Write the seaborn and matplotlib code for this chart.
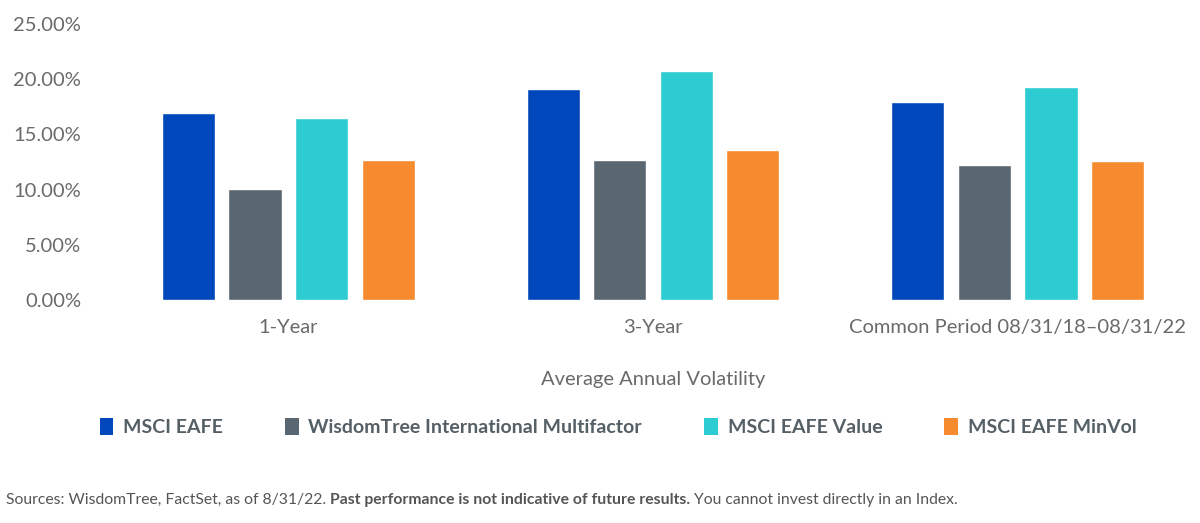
import pandas as pd
import matplotlib
matplotlib.use("Agg")
import matplotlib.pyplot as plt
import seaborn as sns
from matplotlib.ticker import PercentFormatter
from matplotlib.patches import Patch

# data (average annual volatility, %)
periods = ["1-Year", "3-Year", "Common Period 08/31/18\u201308/31/22"]
series_names = ["MSCI EAFE", "WisdomTree International Multifactor",
                "MSCI EAFE Value", "MSCI EAFE MinVol"]
msci_eafe = [16.95, 19.1, 17.95]
wt_multifactor = [10.05, 12.7, 12.25]
msci_eafe_value = [16.5, 20.7, 19.25]
msci_eafe_minvol = [12.7, 13.55, 12.55]
colors = ["#0047BB", "#5B6770", "#2DCCD3", "#F58B2E"]

ytick_vals = [0, 5, 10, 15, 20, 25]


def main():
    sns.set_style("white")
    plt.rcParams["font.family"] = ["Lato", "DejaVu Sans"]

    rows = []
    for name, vals in zip(series_names, [msci_eafe, wt_multifactor,
                                         msci_eafe_value, msci_eafe_minvol]):
        for p, v in zip(periods, vals):
            rows.append({"Period": p, "Index": name, "Volatility": v})
    df = pd.DataFrame(rows)

    fig = plt.figure(figsize=(12, 5.23), dpi=100)
    ax = fig.add_axes([106 / 1200, 1 - 300 / 523, 1 - 106 / 1200, (300 - 24) / 523])

    sns.barplot(data=df, x="Period", y="Volatility", hue="Index",
                hue_order=series_names, palette=colors, width=0.73, gap=0.2,
                saturation=1, legend=False, ax=ax)

    ax.set_xlim(-0.5, 2.5)
    ax.set_ylim(0, 25)
    ax.set_yticks(ytick_vals)
    ax.yaxis.set_major_formatter(PercentFormatter(decimals=2))
    sns.despine(ax=ax, left=True, bottom=True)
    ax.tick_params(axis="both", length=0, labelcolor="#6a6a6a")
    ax.tick_params(axis="y", pad=18, labelsize=14.5)
    ax.tick_params(axis="x", pad=14, labelsize=14.5)
    ax.set_ylabel("")
    ax.set_xlabel("Average Annual Volatility", fontsize=14.5, color="#6a6a6a",
                  labelpad=25)

    handles = [Patch(facecolor=c, edgecolor="none") for c in colors]
    fig.legend(handles, series_names, loc="center",
               bbox_to_anchor=(0.515, 1 - 427 / 523), ncol=4, frameon=False,
               handlelength=0.7, handleheight=1.0, handletextpad=0.5,
               columnspacing=3.2,
               prop={"weight": "bold", "size": 14})
    for t in fig.legends[0].get_texts():
        t.set_color("#555f66")

    # footer with a bold middle part
    y_foot = 1 - 500 / 523
    fs = 11.3
    t1 = fig.text(0.005, y_foot, "Sources: WisdomTree, FactSet, as of 8/31/22. ",
                  fontsize=fs, color="#555555", va="center")
    t2 = fig.text(0, 0, "Past performance is not indicative of future results.",
                  fontsize=fs, color="#555555", weight="bold", va="center")
    fig.canvas.draw()
    r = fig.canvas.get_renderer()
    inv = fig.transFigure.inverted()
    bb1 = t1.get_window_extent(r)
    t2.set_position((inv.transform((bb1.x1, 0))[0], y_foot))
    fig.canvas.draw()
    bb2 = t2.get_window_extent(r)
    fig.text(inv.transform((bb2.x1, 0))[0], y_foot,
             " You cannot invest directly in an Index.",
             fontsize=fs, color="#555555", va="center")

    fig.savefig("out.png", dpi=100)


if __name__ == "__main__":
    main()
